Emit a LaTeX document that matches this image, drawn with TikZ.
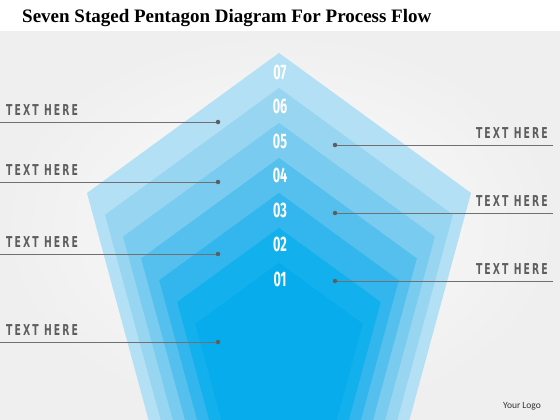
\documentclass[tikz,border=0pt]{standalone}
\usepackage{fontspec}
\setmainfont{Liberation Serif}
\newfontfamily\stepfont[FakeStretch=0.6]{Fira Sans}
\newfontfamily\notefont[FakeStretch=0.62,LetterSpace=14]{DejaVu Sans}
\newfontfamily\logofont{Carlito}
\usetikzlibrary{calc}
\definecolor{bgLight}{HTML}{FCFCFC}
\definecolor{bgDark}{HTML}{EFEFEF}
\definecolor{stepSeven}{HTML}{B3E0F4}
\definecolor{stepSix}{HTML}{97D5F1}
\definecolor{stepFive}{HTML}{79CBF0}
\definecolor{stepFour}{HTML}{55C0EE}
\definecolor{stepThree}{HTML}{33B6ED}
\definecolor{stepTwo}{HTML}{12B0EC}
\definecolor{stepOne}{HTML}{06ACEB}
\definecolor{noteGray}{HTML}{5E5E5E}
\definecolor{lineGray}{HTML}{707070}
\tikzset{
    TitleText/.style={font=\fontsize{19}{23}\selectfont\bfseries, inner sep=0pt},
    StepNum/.style={font=\stepfont\fontsize{21}{24}\selectfont\bfseries, text=white, inner sep=0pt},
    NoteText/.style={font=\notefont\fontsize{15}{18}\selectfont\bfseries, text=noteGray, inner sep=0pt},
    NoteLine/.style={lineGray, line width=0.8pt},
    Dot/.style={circle, fill=noteGray, inner sep=0pt, minimum size=4.5pt}
}
\begin{document}
\begin{tikzpicture}[x=1pt, y=-1pt]
    \useasboundingbox (0,0) rectangle (560,420);
    \fill[white] (0,0) rectangle (560,32);
    \shade[inner color=bgLight, outer color=bgDark] (0,32) rectangle (560,420);

    \node[TitleText, anchor=base west] (title) at (22,23) {Seven Staged Pentagon Diagram For Process Flow};

    % pentagons, scaled towards the bottom centre
    \begin{scope}
        \clip (0,32) rectangle (560,420);
        \foreach \i/\c in {0/stepSeven,1/stepSix,2/stepFive,3/stepFour,4/stepThree,5/stepTwo,6/stepOne} {
            \pgfmathsetmacro{\k}{1-0.094*\i}
            \fill[\c, shift={(279,425)}, scale=\k] (0,-372) -- (192,-232) -- (125,15) -- (-125,15) -- (-192,-232) -- cycle;
        }
    \end{scope}

    \foreach \n in {1,...,7} {
        \node[StepNum] (s\n) at (280,{72+(7-\n)*34.5}) {0\n};
    }

    % left notes
    \foreach \nm/\y in {la/122,lb/182,lc/254,ld/342} {
        \node[Dot] (\nm) at (218,\y) {};
        \coordinate (\nm end) at (0,\y);
        \draw[NoteLine] (\nm) -- (\nm end);
        \node[NoteText, anchor=base west] (\nm text) at (6,\y-7) {TEXT HERE};
    }

    % right notes
    \foreach \nm/\y in {ra/145,rb/213,rc/281} {
        \node[Dot] (\nm) at (335,\y) {};
        \coordinate (\nm end) at (553,\y);
        \draw[NoteLine] (\nm) -- (\nm end);
        \node[NoteText, anchor=base east] (\nm text) at (548,\y-7) {TEXT HERE};
    }

    \node[font=\logofont\fontsize{9.5}{11}\selectfont, text=black!80] (logo) at (522,406) {Your Logo};
\end{tikzpicture}
\end{document}
